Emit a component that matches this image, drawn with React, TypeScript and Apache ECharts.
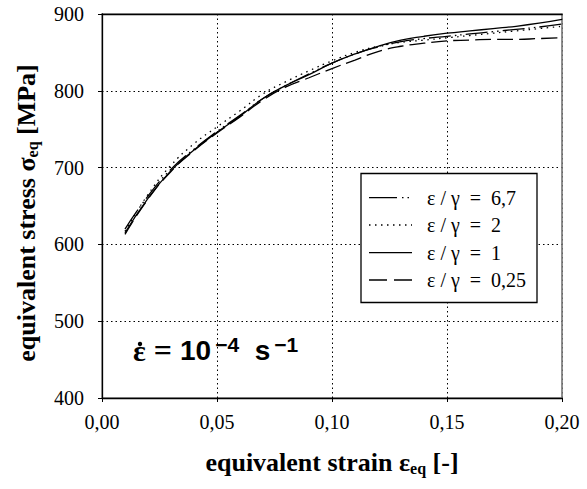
import React, { useEffect, useRef } from "react";
import * as echarts from "echarts";

const strain = [0.01, 0.02, 0.03, 0.04, 0.05, 0.06, 0.07, 0.08, 0.09, 0.1, 0.11, 0.12, 0.13, 0.14, 0.15, 0.16, 0.17, 0.18, 0.19, 0.2];
const ratio67 = [620, 663, 698, 724, 747, 768, 790, 807, 822, 836, 848, 857, 864, 868, 871, 874, 877, 880, 883, 887];
const ratio2 = [617, 665, 703, 731, 753, 774, 796, 812, 826, 839, 850, 858, 863, 866, 869, 872, 875, 878, 881, 884];
const ratio1 = [615, 660, 696, 723, 746, 767, 790, 807, 821, 836, 848, 858, 866, 871, 875, 878, 881, 884, 888, 893];
const ratio025 = [613, 659, 695, 722, 745, 766, 788, 805, 817, 829, 840, 851, 858, 862, 865, 866, 867, 867, 868, 869];
const seriesNames = ["ε / γ  =  6,7", "ε / γ  =  2", "ε / γ  =  1", "ε / γ  =  0,25"];
const seriesValues = [ratio67, ratio2, ratio1, ratio025];
const dashTypes: any[] = [[22, 4, 1.5, 4, 1.5, 4], [1.5, 4.5], "solid", [16, 6]];
const legendDash: any[] = [[28, 5, 1.5, 4, 1.5, 4], [1.5, 4.5], null, [18, 7]];

const SERIF = "Liberation Serif";
const SANS = "Liberation Sans";

export default function App() {
  const ref = useRef<HTMLDivElement>(null);
  useEffect(() => {
    const chart = echarts.init(ref.current!, null, { renderer: "svg" });
    const legendRows = [197.7, 225, 252.7, 280];
    const legendGraphics: any[] = [
      {
        type: "rect",
        shape: { x: 361, y: 173.5, width: 176, height: 129 },
        style: { fill: "#fff", stroke: "#000", lineWidth: 1.3 },
        z: 10,
      },
    ];
    seriesNames.forEach((name, k) => {
      legendGraphics.push({
        type: "line",
        shape: { x1: 369, y1: legendRows[k], x2: 412, y2: legendRows[k] },
        style: { stroke: "#000", lineWidth: 1.3, lineDash: legendDash[k] || undefined },
        z: 11,
      });
      legendGraphics.push({
        type: "text",
        x: 427,
        y: legendRows[k],
        style: { text: name, fontFamily: SERIF, fontSize: 20, fill: "#000", verticalAlign: "middle", align: "left" },
        z: 11,
      });
    });
    const titleRich = {
      a: { fontFamily: SERIF, fontSize: 26, fontWeight: "bold", color: "#000" },
      s: { fontFamily: SERIF, fontSize: 16, fontWeight: "bold", color: "#000", verticalAlign: "bottom", padding: [12, 0, 0, 0] },
    };
    const labelRich = { v: { fontFamily: SERIF, fontSize: 20, color: "#000" } };
    const option: any = {
      animation: false,
      backgroundColor: "#fff",
      textStyle: { fontFamily: SERIF, color: "#000" },
      grid: { left: 102, right: 25, top: 14, bottom: 91, show: true, borderColor: "#888", borderWidth: 1.5 },
      xAxis: [
        {
          type: "value",
          min: 0,
          max: 0.2,
          interval: 0.05,
          name: "{a|equivalent strain ε}{s|eq}{a| [-]}",
          nameLocation: "middle",
          nameGap: 50,
          nameTextStyle: { rich: titleRich },
          axisLine: { show: true, lineStyle: { color: "#000", width: 1.3 } },
          axisTick: { show: true, length: 4, lineStyle: { color: "#000" } },
          axisLabel: {
            fontFamily: SERIF,
            fontSize: 20,
            color: "#000",
            margin: 14,
            rich: labelRich,
            formatter: (v: number) => "{v|" + v.toFixed(2).replace(".", ",") + "}",
          },
          splitLine: { show: true, lineStyle: { color: "#000", type: [1.5, 3], width: 1 } },
        },
        {
          type: "value",
          position: "top",
          min: 0,
          max: 0.2,
          interval: 0.05,
          axisLine: { show: true, onZero: false, lineStyle: { color: "#000", width: 1.3 } },
          axisTick: { show: false },
          axisLabel: { show: false },
          splitLine: { show: false },
        },
      ],
      yAxis: [
        {
          type: "value",
          min: 400,
          max: 900,
          interval: 100,
          name: "{a|equivalent stress σ}{s|eq}{a| [MPa]}",
          nameLocation: "middle",
          nameGap: 62,
          nameTextStyle: { rich: titleRich, padding: [0, 14, 0, 0] },
          axisLine: { show: true, lineStyle: { color: "#000", width: 1.3 } },
          axisTick: { show: true, length: 4, lineStyle: { color: "#000" } },
          axisLabel: {
            fontFamily: SERIF,
            fontSize: 20,
            color: "#000",
            margin: 18,
            rich: labelRich,
            formatter: (v: number) => "{v|" + v + "}",
          },
          splitLine: { show: true, lineStyle: { color: "#000", type: [1.5, 3], width: 1 } },
        },
        {
          type: "value",
          position: "right",
          min: 400,
          max: 900,
          interval: 100,
          axisLine: { show: true, onZero: false, lineStyle: { color: "#888", width: 1.5 } },
          axisTick: { show: false },
          axisLabel: { show: false },
          splitLine: { show: false },
        },
      ],
      series: seriesNames.map((name, k) => ({
        name,
        type: "line",
        xAxisIndex: 0,
        yAxisIndex: 0,
        symbol: "none",
        smooth: true,
        z: 3,
        lineStyle: { color: "#000", width: 1.3, type: dashTypes[k] },
        itemStyle: { color: "#000" },
        data: strain.map((x, i) => [x, seriesValues[k][i]]),
      })),
      graphic: [
        ...legendGraphics,
        {
          type: "text",
          x: 133,
          y: 366,
          style: {
            text: "{e|ε}{q| = }{n|10}{p|−4}{n|  s}{p|−1}",
            verticalAlign: "bottom",
            rich: {
              e: { fontFamily: SERIF, fontSize: 30, fontWeight: "bold", fill: "#000" },
              q: { fontFamily: SERIF, fontSize: 32, fontWeight: "bold", fill: "#000" },
              n: { fontFamily: SANS, fontSize: 28, fontWeight: "bold", fill: "#000" },
              p: { fontFamily: SANS, fontSize: 21, fontWeight: "bold", fill: "#000", verticalAlign: "top", padding: [0, 0, 0, 4] },
            },
          },
          z: 5,
        },
        {
          type: "circle",
          shape: { cx: 140, cy: 344, r: 2.2 },
          style: { fill: "#000" },
          z: 6,
        },
      ],
    };
    chart.setOption(option);
    return () => chart.dispose();
  }, []);
  return <div ref={ref} style={{ position: "fixed", left: 0, top: 0, width: 587, height: 489 }} />;
}
